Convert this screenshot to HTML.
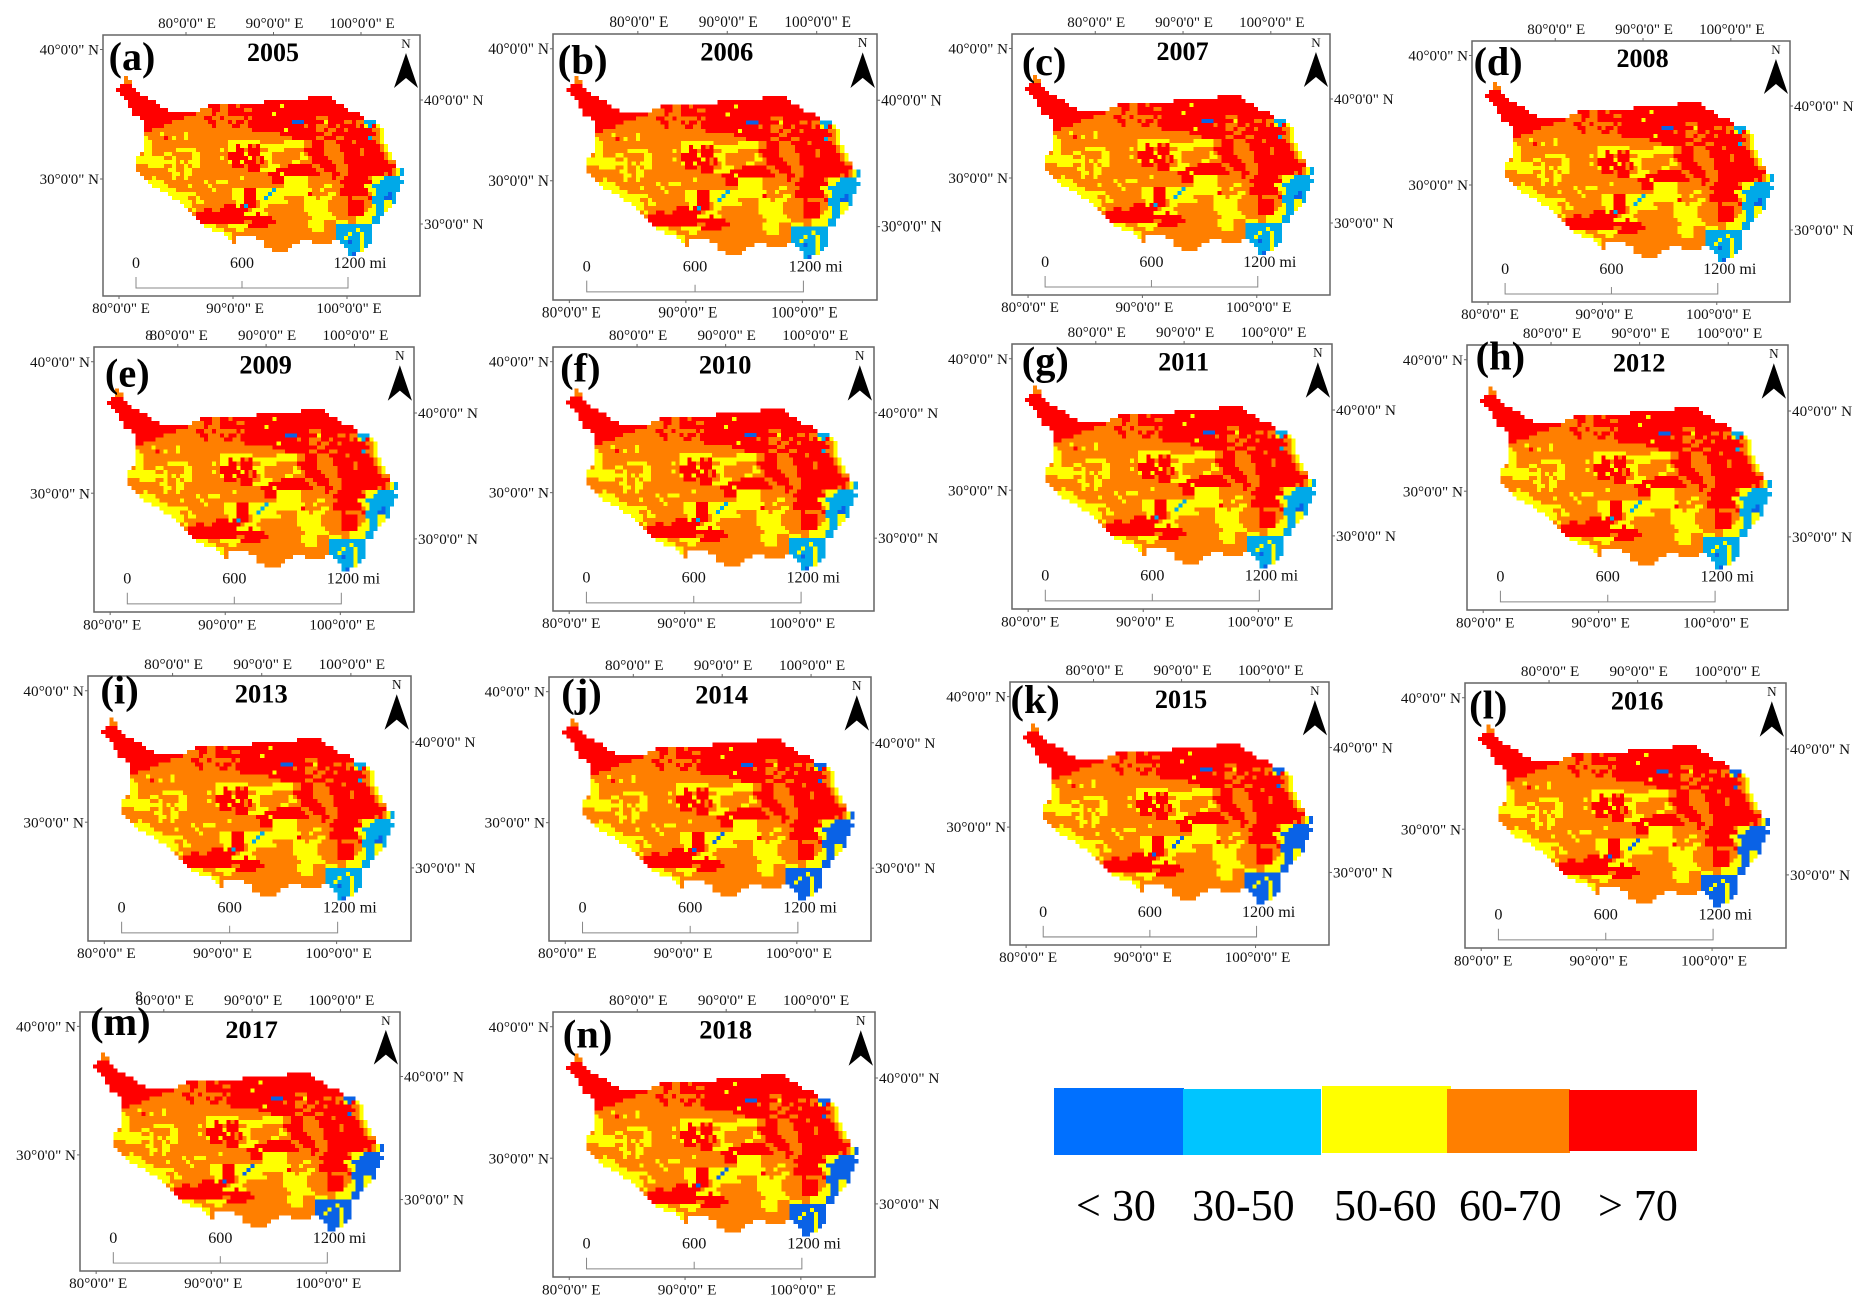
<!DOCTYPE html>
<html lang="en">
<head>
<meta charset="utf-8">
<title>Annual maps 2005-2018</title>
<style>
html,body{margin:0;padding:0;background:#fff;}
#chart{position:absolute;left:0;top:0;display:block;width:1870px;height:1311px;background:#fff;font-family:"Liberation Serif",serif;}
</style>
</head>
<body>
<svg id="chart" xmlns="http://www.w3.org/2000/svg" width="1870" height="1311" viewBox="0 0 1870 1311"></svg>
<script>
// ---------- Data ----------
const years = [2005,2006,2007,2008,2009,2010,2011,2012,2013,2014,2015,2016,2017,2018];
const panelLetters = ['a','b','c','d','e','f','g','h','i','j','k','l','m','n'];
// class drawn for the low-value cells of each year (1 = <30, 2 = 30-50)
const lowClassByYear = [2,2,2,2,2,2,2,2,2,1,1,1,1,1];
const lonTicks = [80,90,100];
const latTicks = [40,30];
const scaleTicks = [0,600,1200];
const legendLabels = ['< 30','30-50','50-60','60-70','> 70'];
const classColors = ['none','#0a62e6','#00a9e8','#ffff00','#ff7f00','#ff0000'];
const legendColors = ['#0070ff','#00c5ff','#ffff00','#ff7f00','#ff0000'];
// class raster: 0 none, 1 <30, 2 30-50, 3 50-60, 4 60-70, 5 >70
const classGrid = [
"0040000000",
"0044000000",
"0555000000",
"5555500000",
"0555550000",
"0055555500 0000000000 0000000000 0000000000 0000000055 5555000000",
"0005555555 0000000000 0000000000 0000000555 5555555555 5555500000",
"0005555555 5000000000 0005554455 4555555555 5355555555 5555555000",
"0000555555 5550000000 0444554455 5544555555 5555555555 5555555500",
"0000555555 5555555555 4444544455 5555555553 5555555555 5555555555 5",
"0000005555 5555555444 4455445444 4454555555 5555555555 4445555555 55",
"0000000555 5555444444 4445544454 5545555555 5555111555 5535555445 4422200000",
"0000000555 5544444444 4444544445 5445555555 5555555455 4445545555 4532530000",
"0000000554 4444444444 4444444444 4444555555 5535555555 4454455455 5555443000",
"0000000444 4344444344 4444444444 4444444444 4555555555 5544555555 5555543000",
"0000000344 4454344344 4444444444 4444444444 4444555555 4455544555 5552443000",
"0000000334 4444444444 4444444433 3333334444 4433333445 5544455554 5555543000",
"0000000334 4444444444 4444444433 5335453333 3333333445 5544445555 5555554300",
"0000000334 4444433333 4444443433 5545554433 3344444555 5544445555 5455554300",
"0000004334 4433444443 3444444455 5535553334 4444443455 5544444555 5455555430",
"0000033333 3344344443 3444443455 5553545334 4444443345 5554444555 5555555430",
"0000033333 3333343433 3444444435 5355545434 4444334445 5555444555 5555555544",
"0000044433 3344344343 3444444445 5545554433 3445555554 4555544455 5555555555",
"0000044444 4443344334 4444444444 4445553333 5555555555 4455544455 5555555554 32",
"0000004444 4444334334 4444444444 4444444455 5355555555 5444554455 5555555454 32",
"0000000443 4444344344 4444444444 4344444445 5533333344 4444544555 5554333222 2",
"0000000033 3344444444 4434433344 4444444445 5533333344 4444445555 5555332222 22",
"0000000003 3334444434 4443444444 4444444444 4433333344 4433444555 5533222222 2",
"0000000000 0333344444 4444344443 3355533332 3333333334 4344445555 5553322222 2",
"0000000000 0003333333 4444444443 3355533323 3333333354 4443345555 5554322212",
"0000000000 0000333344 3444444443 3355533233 3344444333 4333444454 4445222112",
"0000000000 0000003334 3344444444 3355543333 3334444333 3334444455 5544222332",
"0000000000 0000000334 4444444555 3525543344 4444444333 3334444455 5544322330",
"0000000000 0000000043 4455445555 5554333444 4444444333 3334444455 5543322300",
"0000000000 0000000004 5555555555 5533353344 4444444433 3333444455 5533322000",
"0000000000 0000000000 5555555555 5555555554 4444444443 3333344444 3333220000",
"0000000000 0000000000 0555555555 5544555555 4444444433 3344433344 3333220000",
"0000000000 0000000000 0033344433 3335555544 4444444433 3344422222 2222000000",
"0000000000 0000000000 0000333444 3344444444 4444444443 3344422222 3222000000",
"0000000000 0000000000 0000000334 4444444444 4444444444 4444422232 2322000000",
"0000000000 0000000000 0000000034 0000044444 4444444444 4444422322 2322000000",
"0000000000 0000000000 0000000004 0000000444 4444440004 4444002212 2322000000",
"0000000000 0000000000 0000000000 0000000444 4444000000 0000000222 232000",
"0000000000 0000000000 0000000000 0000000004 4440000000 0000000022 23",
"0000000000 0000000000 0000000000 0000000000 0000000000 0000000021"
];

// ---------- Axis functions (panel-local coordinates) ----------
const topLonX = lon => 83 + (lon - 80) * 8.75;
const bottomLonX = lon => 16 + (lon - 80) * 11.4;
const leftLatY = lat => 144 - (lat - 30) * 12.95;
const rightLatY = lat => 189 - (lat - 30) * 12.4;
const scaleX = d => 33 + d * 212 / 1200;
const cellX = c => 13 + c * 4;
const cellY = r => 41 + r * 4;

const NS = 'http://www.w3.org/2000/svg';
const root = document.getElementById('chart');
function make(tag, parent, props, text) {
  const el = document.createElementNS(NS, tag);
  for (const k in props) el.setAttribute(k, props[k]);
  if (text !== undefined) el.textContent = text;
  parent.appendChild(el);
  return el;
}

function drawPanel(index, x0, y0, x1, y1, tagX, tagY) {
  const year = years[index];
  const g = make('g', root, {transform: `translate(${x0} ${y0}) scale(${(x1-x0)/317} ${(y1-y0)/261})`});
  
  

  const frame = make('rect', g, {x:0, y:0, width:317, height:261, fill:'#fff', stroke:'#666', 'stroke-width':1.5});
  
  

  const cells = make('g', g, {'shape-rendering':'crispEdges'});
  
  
  classGrid.forEach((line, r) => {
    const row = line.replace(/ /g, '');
    for (let c = 0; c < row.length; c++) {
      let k = +row[c];
      if (k === 0) continue;
      if (k === 2) k = lowClassByYear[index];
      const cell = make('rect', cells, {x:cellX(c), y:cellY(r), width:4, height:4, fill:classColors[k]});
      
      
    }
  });

  lonTicks.forEach(lon => {
    const tx = topLonX(lon);
    const t1 = make('line', g, {x1:tx, x2:tx, y1:-3, y2:0, stroke:'#666'});
    
    
    const l1 = make('text', g, {x:tx+1, y:-7, 'text-anchor':'middle', 'font-size':15, fill:'#111'}, `${lon}°0'0" E`);
    
    
    const bx = bottomLonX(lon);
    const t2 = make('line', g, {x1:bx, x2:bx, y1:261, y2:264, stroke:'#666'});
    
    
    const l2 = make('text', g, {x:bx+2, y:278, 'text-anchor':'middle', 'font-size':15, fill:'#111'}, `${lon}°0'0" E`);
    
    
  });
  latTicks.forEach(lat => {
    const ly = leftLatY(lat);
    const t1 = make('line', g, {x1:-3, x2:0, y1:ly, y2:ly, stroke:'#666'});
    
    
    const l1 = make('text', g, {x:-4, y:ly+5, 'text-anchor':'end', 'font-size':15, fill:'#111'}, `${lat}°0'0" N`);
    
    
    const ry = rightLatY(lat);
    const t2 = make('line', g, {x1:317, x2:320, y1:ry, y2:ry, stroke:'#666'});
    
    
    const l2 = make('text', g, {x:321, y:ry+5, 'font-size':15, fill:'#111'}, `${lat}°0'0" N`);
    
    
  });

  const tag = make('text', g, {x:tagX, y:tagY+11, 'text-anchor':'middle', 'font-size':40, 'font-weight':'bold', fill:'#000'}, `(${panelLetters[index]})`);
  
  
  const title = make('text', g, {x:170, y:26, 'text-anchor':'middle', 'font-size':26, 'font-weight':'bold', fill:'#000'}, String(year));
  
  

  const north = make('text', g, {x:303, y:13, 'text-anchor':'middle', 'font-size':13, fill:'#111'}, 'N');
  
  
  const arrow = make('polygon', g, {points:'303,18 291,53 303,43 315,53', fill:'#000'});
  
  

  const bar = make('path', g, {d:`M${scaleX(0)} 242V253H${scaleX(1200)}V242M${scaleX(600)} 246V253`, fill:'none', stroke:'#888', 'stroke-width':1});
  
  
  scaleTicks.forEach(d => {
    const extra = d === 1200 ? 12 : 0;
    const lab = make('text', g, {x:scaleX(d)+extra, y:233, 'text-anchor':'middle', 'font-size':16, fill:'#111'}, d === 1200 ? '1200 mi' : String(d));
    
    
  });
}

// frame corners and letter centre per panel
drawPanel(0, 103, 35, 420, 296, 29, 24);
drawPanel(1, 553, 34, 877, 300, 29, 28);
drawPanel(2, 1012, 34, 1330, 295, 32, 30);
drawPanel(3, 1472, 41, 1790, 302, 26, 23);
drawPanel(4, 94, 347, 414, 612, 33, 28);
drawPanel(5, 553, 347, 874, 611, 27, 23);
drawPanel(6, 1012, 344, 1332, 609, 33, 19);
drawPanel(7, 1467, 345, 1788, 610, 33, 13);
drawPanel(8, 88, 676, 411, 941, 31, 16);
drawPanel(9, 549, 677, 871, 941, 32, 18);
drawPanel(10, 1010, 682, 1329, 945, 25, 20);
drawPanel(11, 1465, 683, 1786, 948, 23, 24);
drawPanel(12, 80, 1012, 400, 1271, 40, 12);
drawPanel(13, 553, 1012, 875, 1277, 34, 24);

const stray1 = make('text', root, {x:149, y:340, 'text-anchor':'middle', 'font-size':15, fill:'#111'}, '8');


const stray2 = make('text', root, {x:139, y:1001, 'text-anchor':'middle', 'font-size':15, fill:'#111'}, '8');



// ---------- Legend ----------
const legend = make('g', root, {});


function legendEntry(i, x0, y0, x1, y1, textLeft) {
  const swatch = make('rect', legend, {x:x0, y:y0, width:x1-x0, height:y1-y0, fill:legendColors[i]});
  
  
  const label = make('text', legend, {x:textLeft, y:1220, 'font-size':44, fill:'#000'}, legendLabels[i]);
  
  
}
legendEntry(0, 1054, 1088, 1184, 1155, 1076);
legendEntry(1, 1183, 1089, 1321, 1155, 1192);
legendEntry(2, 1322, 1086, 1451, 1153, 1334);
legendEntry(3, 1447, 1089, 1570, 1153, 1459);
legendEntry(4, 1569, 1090, 1697, 1151, 1598);
</script>
</body>
</html>
